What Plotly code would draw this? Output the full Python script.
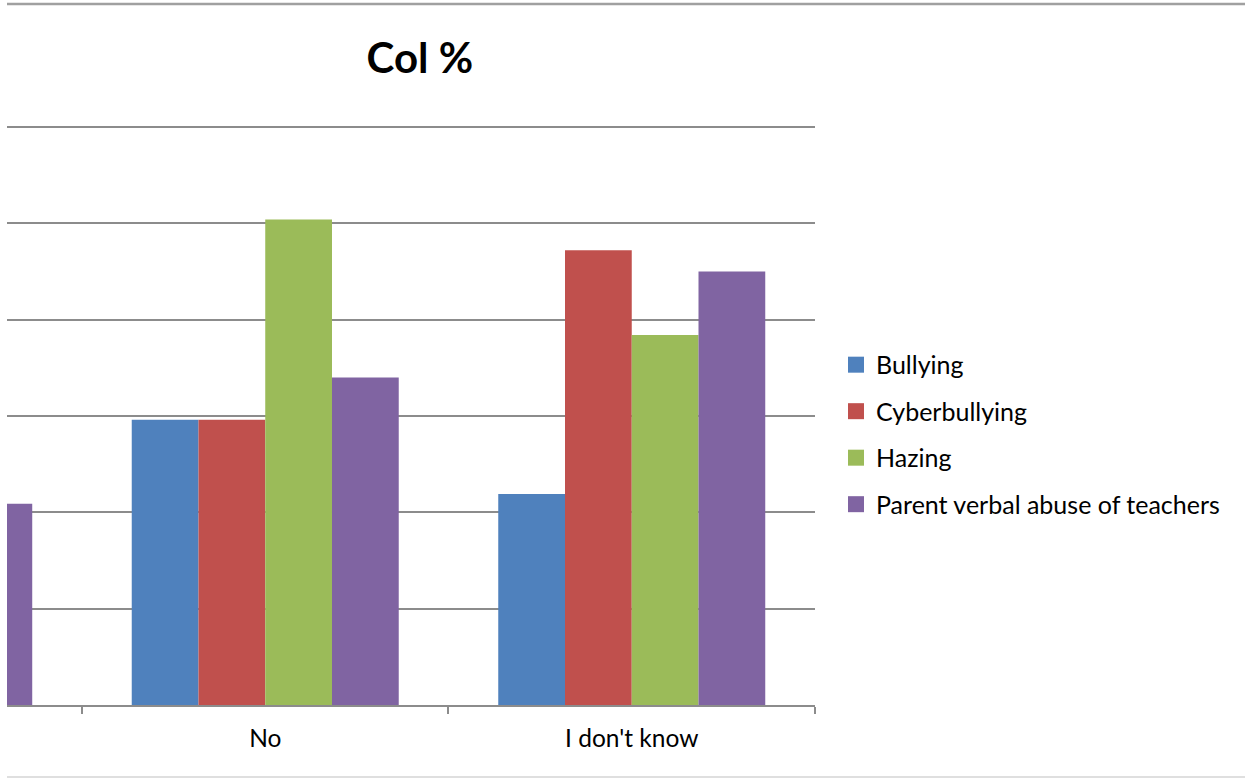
import plotly.graph_objects as go

# data (y axis labels are cropped, 0-30 scale assumed)
categories = ["Yes", "No", "I don't know"]
series = ["Bullying", "Cyberbullying", "Hazing", "Parent verbal abuse of teachers"]
bullying = [None, 14.8, 10.95]
cyberbullying = [None, 14.8, 23.6]
hazing = [None, 25.2, 19.2]
parent_abuse = [10.45, 17.0, 22.5]
values = [bullying, cyberbullying, hazing, parent_abuse]
colors = ["#4F81BD", "#C0504D", "#9BBB59", "#8064A2"]

FONT = "Lato"
GRID = "#8c8c8c"

fig = go.Figure()
for name, vals, col in zip(series, values, colors):
    fig.add_trace(go.Bar(x=categories, y=vals, name=name, marker_color=col,
                         marker_line_width=0, showlegend=False))

# legend entries (square swatches)
for name, col in zip(series, colors):
    fig.add_trace(go.Scatter(x=[None], y=[None], mode="markers", name=name,
                             legendgroup=name,
                             marker=dict(symbol="square", size=16, color=col)))

# frame lines above and below the chart
for yy, c, w in [(1.2086, "#a0a0a0", 2.5), (-0.1241, "#d4d4d4", 1.5)]:
    fig.add_shape(type="line", xref="paper", yref="paper", x0=0, x1=1.54,
                  y0=yy, y1=yy, line=dict(color=c, width=w))

fig.update_layout(
    width=1245, height=778,
    margin=dict(l=7, r=430, t=125, b=73),
    paper_bgcolor="white", plot_bgcolor="white",
    barmode="group", bargap=0.2715, bargroupgap=0,
    font=dict(family=FONT, color="black"),
    title=dict(text="<b>Col %</b>", x=0.511, xref="paper", xanchor="center",
               y=1 - 58 / 778, yref="container", yanchor="middle",
               font=dict(size=42, family=FONT, color="black")),
    legend=dict(x=1.026, xanchor="left", y=0.4665, yanchor="middle",
                font=dict(size=25, family=FONT), traceorder="grouped",
                tracegroupgap=11, bgcolor="rgba(0,0,0,0)"),
    xaxis=dict(range=[0.2954, 2.5], showline=True, linecolor=GRID, linewidth=2,
               ticks="outside", tickson="boundaries", ticklen=7, tickcolor=GRID,
               tickwidth=1.5, tickfont=dict(size=24.5, family=FONT),
               ticklabelstandoff=11, showgrid=False),
    yaxis=dict(range=[0, 30.1], tickvals=[5, 10, 15, 20, 25, 30], showgrid=True,
               gridcolor=GRID, gridwidth=1.7, showticklabels=False,
               zeroline=False, fixedrange=True),
)

fig.write_html("out.html", config={"displayModeBar": False},
               post_script="document.body.style.margin='0';")
